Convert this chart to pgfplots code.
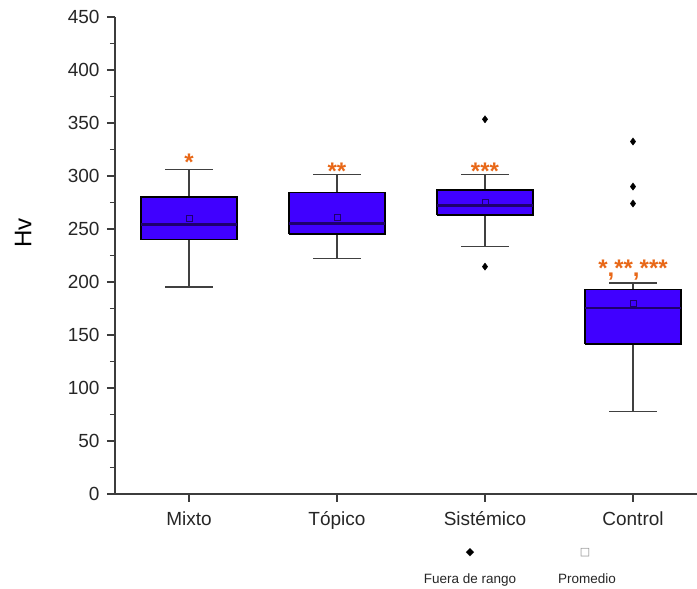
\documentclass[border=0pt]{standalone}
\usepackage{fontspec}
\setmainfont{Liberation Sans}
\newfontfamily\symfont{DejaVu Sans}
\usepackage{pgfplots}
\pgfplotsset{compat=1.18}
\definecolor{boxblue}{RGB}{64,0,255}
\definecolor{mednavy}{RGB}{30,0,110}
\definecolor{starorange}{RGB}{232,104,24}
\definecolor{axisgray}{RGB}{60,60,60}

\begin{document}
\begin{tikzpicture}
\begin{axis}[
    scale only axis, width=592pt, height=477pt,
    xmin=0.5, xmax=4.5, ymin=0, ymax=450,
    axis x line*=bottom, axis y line*=left,
    axis line style={axisgray, line width=1.3pt},
    xtick={1,2,3,4},
    xticklabels={Mixto,Tópico,Sistémico,Control},
    ytick={0,50,...,450}, minor y tick num=1,
    tick align=outside, major tick length=8pt, minor tick length=5pt,
    tick style={axisgray, line width=1.2pt},
    ticklabel style={font=\fontsize{19}{22}\selectfont, text=black!85},
    xticklabel style={yshift=-6pt},
    yticklabel style={xshift=-4pt},
    /pgf/number format/assume math mode=true,
    ylabel={Hv},
    ylabel style={font=\fontsize{24}{28}\selectfont, at={(rel axis cs:0,0.547)},
        anchor=center, yshift=92pt},
    clip=false,
    unbounded coords=jump,
    whisk/.style={black!75, line width=1.6pt},
    box/.style={fill=boxblue, draw=black, line width=1.7pt},
    med/.style={mednavy, line width=2.8pt},
]

% Mixto: 195 / 240 / 254 / 280 / 306
\addplot[whisk] coordinates {(1,195)(1,240) (1,nan) (1,280)(1,306) (1,nan)
    (0.84,195)(1.16,195) (1,nan) (0.84,306)(1.16,306)};
\addplot[box] coordinates {(0.675,240)(1.325,240)(1.325,280)(0.675,280)(0.675,240)};
\addplot[med] coordinates {(0.675,254)(1.325,254)};

% Topico: 222 / 245 / 255 / 284.5 / 301.5
\addplot[whisk] coordinates {(2,222)(2,245) (2,nan) (2,284.5)(2,301.5) (2,nan)
    (1.84,222)(2.16,222) (2,nan) (1.84,301.5)(2.16,301.5)};
\addplot[box] coordinates {(1.675,245)(2.325,245)(2.325,284.5)(1.675,284.5)(1.675,245)};
\addplot[med] coordinates {(1.675,255)(2.325,255)};

% Sistemico: 233.5 / 263 / 272 / 287 / 301.5
\addplot[whisk] coordinates {(3,233.5)(3,263) (3,nan) (3,287)(3,301.5) (3,nan)
    (2.84,233.5)(3.16,233.5) (3,nan) (2.84,301.5)(3.16,301.5)};
\addplot[box] coordinates {(2.675,263)(3.325,263)(3.325,287)(2.675,287)(2.675,263)};
\addplot[med] coordinates {(2.675,272)(3.325,272)};

% Control: 78 / 141.5 / 175.5 / 193 / 199
\addplot[whisk] coordinates {(4,78)(4,141.5) (4,nan) (4,193)(4,199) (4,nan)
    (3.84,78)(4.16,78) (4,nan) (3.84,199)(4.16,199)};
\addplot[box] coordinates {(3.675,141.5)(4.325,141.5)(4.325,193)(3.675,193)(3.675,141.5)};
\addplot[med] coordinates {(3.675,175.5)(4.325,175.5)};

% outliers
\addplot[only marks, mark=diamond*, mark size=3.6pt,
    mark options={fill=black, draw=black}]
    coordinates {(3,353.5) (3,214.5) (4,332.5) (4,290) (4,274)};
% averages
\addplot[only marks, mark=square, mark size=3pt,
    mark options={draw=mednavy, line width=0.6pt}]
    coordinates {(1,260) (2,261) (3,275) (4,180)};

% significance marks
\node[anchor=base, text=starorange, font=\bfseries\fontsize{24}{24}\selectfont, inner sep=0pt] at (axis cs:1,305) {*};
\node[anchor=base, text=starorange, font=\bfseries\fontsize{24}{24}\selectfont, inner sep=0pt] at (axis cs:2,297) {**};
\node[anchor=base, text=starorange, font=\bfseries\fontsize{24}{24}\selectfont, inner sep=0pt] at (axis cs:3,297) {***};
\node[anchor=base, text=starorange, font=\bfseries\fontsize{24}{24}\selectfont, inner sep=0pt] at (axis cs:4,205) {*,**,***};

% legend
\node[font=\symfont\fontsize{11}{11}\selectfont] at (axis cs:2.899,-55.7) {◆};
\node[anchor=base, font=\fontsize{13.5}{15}\selectfont, text=black!85] at (axis cs:2.899,-84) {Fuera de rango};
\node[font=\symfont\fontsize{11}{11}\selectfont, text=black!45] at (axis cs:3.676,-55.7) {□};
\node[anchor=base, font=\fontsize{13.5}{15}\selectfont, text=black!85] at (axis cs:3.689,-84) {Promedio};
\end{axis}
\pgfresetboundingbox
\path (-115pt,-95pt) rectangle (582pt,494pt);
\end{tikzpicture}
\end{document}
